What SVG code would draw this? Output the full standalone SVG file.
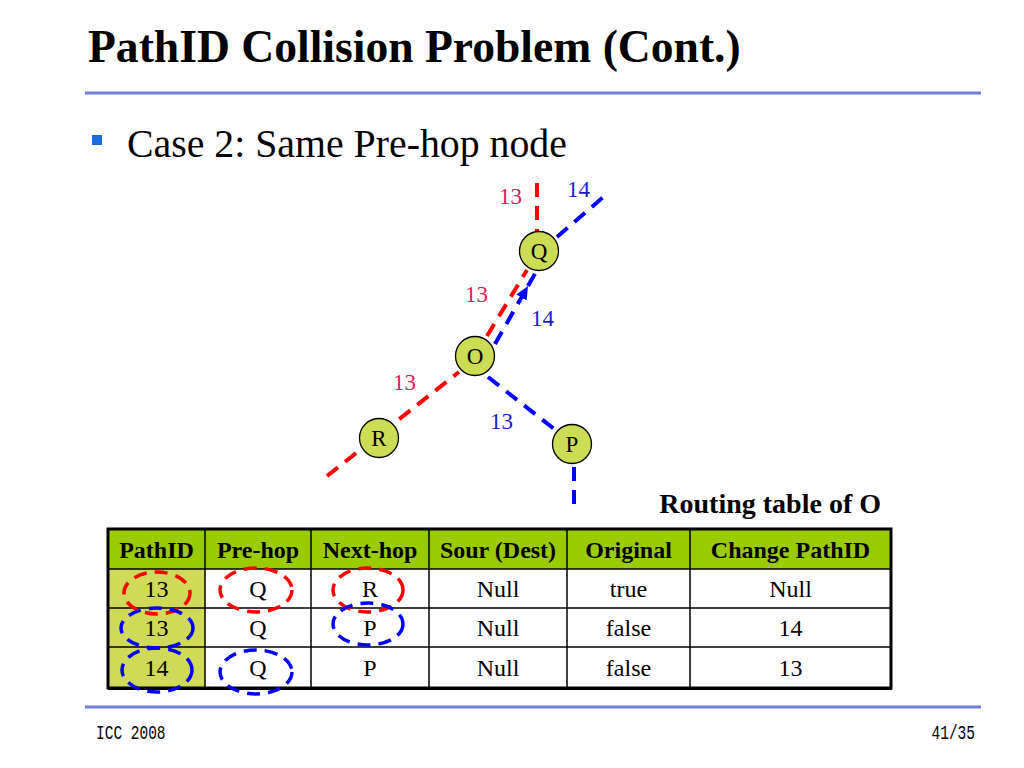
<svg xmlns="http://www.w3.org/2000/svg" width="1024" height="768" viewBox="0 0 1024 768">
<defs>
<style>
.t{font-family:"Liberation Serif","Times New Roman",serif;fill:#000}
.hd{font-family:"Liberation Serif","Times New Roman",serif;font-weight:bold;font-size:24px;fill:#000;text-anchor:middle}
.cell{font-family:"Liberation Serif","Times New Roman",serif;font-size:24px;fill:#000;text-anchor:middle}
.node circle{fill:#CCDD55;stroke:#000;stroke-width:1.3}
.node text{font-family:"Liberation Serif","Times New Roman",serif;font-size:23px;fill:#000;text-anchor:middle}
.red{stroke:#FF0000;stroke-width:4;stroke-dasharray:14 9;fill:none}
.blue{stroke:#0000FF;stroke-width:4;stroke-dasharray:14 9;fill:none}
.lr{font-family:"Liberation Serif","Times New Roman",serif;font-size:23px;fill:#E0185A}
.lb{font-family:"Liberation Serif","Times New Roman",serif;font-size:23px;fill:#1A1ACC}
.er{stroke:#FF0000;stroke-width:3.5;stroke-dasharray:13 8;fill:none}
.eb{stroke:#0000FF;stroke-width:3.5;stroke-dasharray:13 8;fill:none}
.grid{stroke:#000;stroke-width:1.5}
.ft{font-family:"Liberation Mono","Courier New",monospace;font-size:14.5px;fill:#000}
</style>
<marker id="arr" markerWidth="3.3" markerHeight="3" refX="3.3" refY="1.5" orient="auto" markerUnits="strokeWidth">
<path d="M0,0 L3.3,1.5 L0,3 z" fill="#0000FF"/>
</marker>
</defs>
<rect width="1024" height="768" fill="#fff"/>

<!-- title -->
<text class="t" x="88" y="62" font-size="45.6" font-weight="bold">PathID Collision Problem (Cont.)</text>
<line x1="85" y1="93" x2="981" y2="93" stroke="#6F7FE0" stroke-width="3"/>
<rect x="92" y="135" width="10" height="10" fill="#1A6FD6"/>
<text class="t" x="127" y="157" font-size="39.8">Case 2: Same Pre-hop node</text>

<!-- connectors -->
<g id="connectors">
<line class="red" x1="537" y1="183" x2="537" y2="232"/>
<line class="blue" x1="557" y1="237" x2="608" y2="193"/>
<line class="red" x1="487" y1="336" x2="527" y2="270"/>
<line class="blue" x1="495" y1="344" x2="528" y2="286" marker-end="url(#arr)"/>
<line class="blue" x1="528" y1="286" x2="536" y2="272" stroke-dasharray="none"/>
<line class="red" x1="327" y1="476" x2="459" y2="372"/>
<line class="blue" x1="488" y1="377" x2="558" y2="432"/>
<line class="blue" x1="574" y1="467" x2="574" y2="512"/>
</g>

<!-- labels -->
<text class="lr" x="499" y="204">13</text>
<text class="lb" x="567" y="197">14</text>
<text class="lr" x="465" y="302">13</text>
<text class="lb" x="531" y="326">14</text>
<text class="lr" x="393" y="390">13</text>
<text class="lb" x="490" y="429">13</text>

<!-- nodes -->
<g id="node-Q" class="node"><circle cx="539" cy="251" r="19.5"/><text x="539" y="259">Q</text></g>
<g id="node-O" class="node"><circle cx="475" cy="356" r="19.5"/><text x="475" y="364">O</text></g>
<g id="node-R" class="node"><circle cx="379" cy="438" r="19.5"/><text x="379" y="446">R</text></g>
<g id="node-P" class="node"><circle cx="572" cy="444" r="19.5"/><text x="572" y="452">P</text></g>

<!-- table -->
<text class="t" x="881" y="513" font-size="28" font-weight="bold" text-anchor="end">Routing table of O</text>
<g id="table">
<rect x="108" y="529" width="783" height="40" fill="#99CC00"/>
<rect x="108" y="569" width="97" height="119" fill="#D0D958"/>
<rect x="205" y="569" width="686" height="119" fill="#fff"/>
<line class="grid" x1="205" y1="529" x2="205" y2="688"/>
<line class="grid" x1="311" y1="529" x2="311" y2="688"/>
<line class="grid" x1="429" y1="529" x2="429" y2="688"/>
<line class="grid" x1="567" y1="529" x2="567" y2="688"/>
<line class="grid" x1="690" y1="529" x2="690" y2="688"/>
<line class="grid" x1="108" y1="569" x2="891" y2="569"/>
<line class="grid" x1="108" y1="608" x2="891" y2="608"/>
<line class="grid" x1="108" y1="647" x2="891" y2="647"/>
<rect x="108" y="529" width="783" height="159" fill="none" stroke="#000" stroke-width="3"/>
<line x1="108" y1="689" x2="892" y2="689" stroke="#000" stroke-width="2"/>

<text class="hd" x="156.5" y="558">PathID</text>
<text class="hd" x="258" y="558">Pre-hop</text>
<text class="hd" x="370" y="558">Next-hop</text>
<text class="hd" x="498" y="558">Sour (Dest)</text>
<text class="hd" x="628.5" y="558">Original</text>
<text class="hd" x="790.5" y="558">Change PathID</text>

<text class="cell" x="156.5" y="597">13</text>
<text class="cell" x="258" y="597">Q</text>
<text class="cell" x="370" y="597">R</text>
<text class="cell" x="498" y="597">Null</text>
<text class="cell" x="628.5" y="597">true</text>
<text class="cell" x="790.5" y="597">Null</text>

<text class="cell" x="156.5" y="636">13</text>
<text class="cell" x="258" y="636">Q</text>
<text class="cell" x="370" y="636">P</text>
<text class="cell" x="498" y="636">Null</text>
<text class="cell" x="628.5" y="636">false</text>
<text class="cell" x="790.5" y="636">14</text>

<text class="cell" x="156.5" y="676">14</text>
<text class="cell" x="258" y="676">Q</text>
<text class="cell" x="370" y="676">P</text>
<text class="cell" x="498" y="676">Null</text>
<text class="cell" x="628.5" y="676">false</text>
<text class="cell" x="790.5" y="676">13</text>
</g>

<!-- ellipses -->
<g id="highlights">
<ellipse class="er" cx="157" cy="593" rx="33" ry="21"/>
<ellipse class="er" cx="256" cy="590" rx="36" ry="22"/>
<ellipse class="er" cx="368" cy="590" rx="35" ry="22"/>
<ellipse class="eb" cx="157" cy="628" rx="36" ry="20"/>
<ellipse class="eb" cx="368" cy="624" rx="35" ry="21"/>
<ellipse class="eb" cx="157" cy="670" rx="35" ry="22"/>
<ellipse class="eb" cx="256" cy="672" rx="36" ry="22"/>
</g>

<!-- footer -->
<line x1="85" y1="707" x2="981" y2="707" stroke="#6F7FE0" stroke-width="3"/>
<text class="ft" transform="translate(96,739) scale(1,1.4)" x="0" y="0">ICC 2008</text>
<text class="ft" transform="translate(975,739) scale(1,1.4)" x="0" y="0" text-anchor="end">41/35</text>
</svg>
